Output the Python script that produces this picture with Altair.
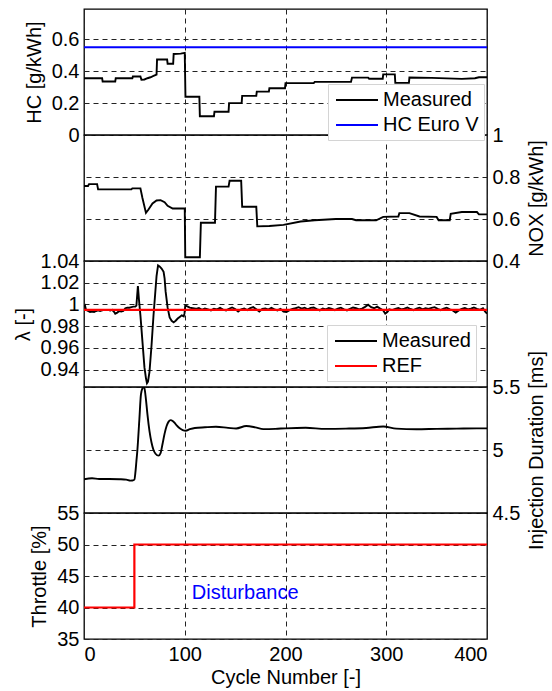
import altair as alt
import pandas as pd

# ---------------- data ----------------
hc_x = [0, 18, 18.5, 31, 31.5, 48, 48.5, 56, 57, 60, 63, 66, 69, 72, 72.5, 82.5, 83, 88.5, 89, 96, 100,
        100.7, 114.5, 115, 129, 129.5, 143.5, 144, 156.5, 157, 171, 171.5, 183.5, 184, 199.5, 200, 228,
        229, 265, 266, 282, 283, 296.5, 297, 308.5, 309, 322.5, 323, 345, 360, 375, 388, 392, 400]
hc_y = [0.356, 0.356, 0.335, 0.335, 0.356, 0.356, 0.367, 0.367, 0.346, 0.348, 0.356, 0.362, 0.37, 0.378,
        0.473, 0.473, 0.447, 0.447, 0.508, 0.51, 0.515, 0.24, 0.24, 0.118, 0.118, 0.146, 0.146, 0.2, 0.2,
        0.245, 0.245, 0.272, 0.272, 0.293, 0.293, 0.325, 0.325, 0.333, 0.333, 0.36, 0.36, 0.353, 0.353,
        0.38, 0.38, 0.327, 0.327, 0.36, 0.358, 0.355, 0.352, 0.356, 0.362, 0.362]

euro_x = [0, 400]
euro_y = [0.55, 0.55]

nox_x = [0, 4, 5, 13, 14, 47, 48, 55, 56, 58, 61.5, 64, 68, 72, 76, 80, 83, 88, 100, 100.5, 115, 116,
         130, 131, 143.5, 144.5, 156, 157, 171, 172, 184, 198, 215, 229, 250, 266, 270, 290, 297, 312,
         313, 323, 333, 350, 352, 363, 364, 375, 390, 392, 400]
nox_y = [0.757, 0.757, 0.766, 0.766, 0.741, 0.741, 0.746, 0.746, 0.746, 0.70, 0.629, 0.645, 0.674, 0.688,
         0.69, 0.68, 0.663, 0.65, 0.65, 0.418, 0.418, 0.582, 0.582, 0.754, 0.754, 0.782, 0.782, 0.658,
         0.658, 0.565, 0.567, 0.572, 0.588, 0.594, 0.6, 0.6, 0.594, 0.594, 0.61, 0.612, 0.628, 0.628,
         0.612, 0.61, 0.594, 0.594, 0.625, 0.633, 0.633, 0.622, 0.622]

lam_x = [0, 1, 2, 4, 6, 8, 10, 12, 14, 16, 18, 20, 22, 24, 26, 28, 30, 31, 33, 35, 37, 39, 41, 43, 45,
         47, 49, 51, 52, 53.5, 54.5, 56, 58, 60, 61.5, 62.5, 63.5, 65, 67, 69, 70.5, 72, 73.5, 75, 77,
         79, 80, 81, 83, 85, 87, 89, 91, 93, 95, 97, 99, 99.8, 100.5,
         102, 105, 108, 111, 114, 117, 120, 123, 126, 129, 132, 135, 138, 141, 144, 147, 150, 153, 156,
         159, 162, 165, 168, 171, 174, 177, 180, 183, 186, 189, 192, 195, 198, 201, 204, 207, 210, 213,
         216, 219, 222, 225, 228, 231, 234, 237, 240, 243, 246, 249, 252, 255, 258, 261, 264, 267, 270,
         273, 276, 279, 282, 285, 288, 291, 294, 297, 299, 301, 303, 306, 309, 312, 315, 318, 321, 324,
         327, 330, 333, 336, 339, 342, 345, 348, 351, 354, 357, 360, 363, 366, 369, 372, 375, 378, 381,
         384, 387, 390, 393, 396, 398, 400]
lam_y = [0.998, 0.999, 0.995, 0.994, 0.993, 0.9935, 0.993, 0.994, 0.9945, 0.994, 0.9945, 0.995, 0.9948,
         0.995, 0.9945, 0.995, 0.993, 0.9915, 0.9925, 0.994, 0.9935, 0.994, 0.9965, 0.997, 0.997, 0.9975,
         0.998, 0.998, 0.999, 1.017, 1.005, 0.99, 0.966, 0.942, 0.932, 0.9275, 0.929, 0.938, 0.962, 0.99,
         1.008, 1.026, 1.036, 1.035, 1.033, 1.03, 1.024, 1.012, 0.997, 0.988, 0.985, 0.9835, 0.985, 0.987,
         0.9885, 0.99, 0.989, 0.992, 0.999,
         0.9985, 0.997, 0.9965, 0.996, 0.9968, 0.995, 0.9962, 0.9955, 0.9945, 0.996, 0.9955, 0.9968,
         0.9952, 0.9945, 0.996, 0.9972, 0.9958, 0.9935, 0.9955, 0.9962, 0.9948, 0.9966, 0.9975, 0.9955,
         0.9935, 0.9958, 0.9962, 0.9952, 0.9968, 0.9955, 0.9945, 0.996, 0.9935, 0.993, 0.9948, 0.996,
         0.9965, 0.9975, 0.9962, 0.997, 0.9955, 0.9968, 0.9972, 0.9958, 0.9945, 0.9962, 0.9955, 0.9968,
         0.9958, 0.9948, 0.9962, 0.997, 0.9955, 0.9945, 0.996, 0.9972, 0.9965, 0.9955, 0.9962, 0.9978,
         0.9998, 0.9975, 0.9965, 0.998, 0.9962, 0.9945, 0.9915, 0.993, 0.9955, 0.9948, 0.996, 0.9968,
         0.9955, 0.9962, 0.9972, 0.9958, 0.9948, 0.9962, 0.997, 0.9955, 0.9965, 0.9958, 0.9968, 0.9975,
         0.996, 0.9948, 0.9962, 0.997, 0.9955, 0.9945, 0.9925, 0.9945, 0.996, 0.9968, 0.9955, 0.9962,
         0.9972, 0.996, 0.995, 0.9965, 0.9935, 0.9915]

ref_x = [0, 400]
ref_y = [0.995, 0.995]

inj_x = [0, 8, 15, 25, 35, 42, 46, 48, 50, 51, 52, 53, 55, 56.5, 58, 59, 60, 61.5, 63, 65, 67, 69, 71, 74,
         76, 78, 80, 82, 84, 86, 88, 90, 92, 95, 98, 101, 105, 110, 120, 131, 143, 151, 161, 170, 178,
         190, 200, 220, 240, 260, 280, 297, 310, 330, 350, 370, 390, 400]
inj_y = [4.768, 4.776, 4.77, 4.77, 4.768, 4.765, 4.757, 4.758, 4.765, 4.82, 4.91, 5.0, 5.25, 5.44, 5.49,
         5.5, 5.49, 5.40, 5.28, 5.15, 5.06, 5.0, 4.97, 4.955, 4.975, 5.05, 5.13, 5.19, 5.225, 5.237, 5.23,
         5.215, 5.195, 5.172, 5.158, 5.153, 5.165, 5.175, 5.18, 5.184, 5.176, 5.171, 5.19, 5.18, 5.166,
         5.168, 5.172, 5.176, 5.168, 5.17, 5.175, 5.186, 5.17, 5.165, 5.168, 5.17, 5.172, 5.172]

thr_x = [0, 50, 50, 400]
thr_y = [40, 40, 50, 50]

note_x = [107]
note_y = [42.3]
note_text = ["Disturbance"]

# ---------------- chart ----------------
FONT = "Liberation Sans"
FS = 20
W, H = 403, 126
GRID = dict(grid=True, gridDash=[5, 4], gridColor="#222222", gridWidth=1)
XT = [0, 100, 200, 300, 400]
xs = alt.Scale(domain=[0, 400], nice=False, zero=False)


def xenc(bottom=False):
    if bottom:
        ax = alt.Axis(values=XT, title="Cycle Number [-]", labelPadding=5, titlePadding=3, format="d", **GRID)
    else:
        ax = alt.Axis(values=XT, title=None, labels=False, **GRID)
    return alt.X("x:Q", scale=xs, axis=ax)


def yenc(domain, values, title, orient):
    kw = dict(orient=orient, values=values, format="~g", title=title, labelPadding=5, titlePadding=7, **GRID)
    if orient == "right":
        kw.update(titleAngle=270, titleBaseline="top")
    return alt.Y("y:Q", scale=alt.Scale(domain=domain, nice=False, zero=False), axis=alt.Axis(**kw))


def legend(lx, ly):
    return alt.Legend(orient="none", legendX=lx, legendY=ly, title=None, fillColor="white",
                      strokeColor="#d4d4d4", padding=5, symbolType="M-0.8,0H3.4", symbolSize=400,
                      symbolStrokeWidth=2, labelFontSize=FS, labelFont=FONT, labelColor="black",
                      labelOffset=28, rowPadding=4)


LW = 1.9

# Panel 1: HC
y1 = yenc([0, 0.79], [0, 0.2, 0.4, 0.6], "HC [g/kWh]", "left")
hc_df = pd.DataFrame({"x": hc_x, "y": hc_y})
euro_df = pd.DataFrame({"x": euro_x, "y": euro_y})
p1 = alt.layer(
    alt.Chart(hc_df).mark_line(color="black", strokeWidth=LW).encode(x=xenc(), y=y1),
    alt.Chart(euro_df).mark_line(color="#0000ff", strokeWidth=LW).encode(x=xenc(), y=y1),
).properties(width=W, height=H)

# Panel 2: NOX (carries the HC legend, drawn on top of panel 1)
y2 = yenc([0.4, 1.0], [0.4, 0.6, 0.8, 1.0], "NOX [g/kWh]", "right")
nox_df = pd.DataFrame({"x": nox_x, "y": nox_y, "s": "Measured"})
c2 = alt.Color("s:N", scale=alt.Scale(domain=["Measured", "HC Euro V"], range=["black", "#0000ff"]),
               legend=legend(244, -51))
p2 = alt.Chart(nox_df).mark_line(strokeWidth=LW, clip=True).encode(x=xenc(), y=y2, color=c2).properties(width=W, height=H)

# Panel 3: lambda
y3 = yenc([0.924, 1.04], [0.94, 0.96, 0.98, 1.0, 1.02, 1.04], "λ [-]", "left")
lam_df = pd.DataFrame({"x": lam_x, "y": lam_y, "s": "Measured"})
ref_df = pd.DataFrame({"x": ref_x, "y": ref_y, "s": "REF"})
c3 = alt.Color("s:N", scale=alt.Scale(domain=["Measured", "REF"], range=["black", "#ff0000"]),
               legend=legend(243, 64))
p3 = alt.layer(
    alt.Chart(lam_df).mark_line(strokeWidth=LW, clip=True).encode(x=xenc(), y=y3, color=c3),
    alt.Chart(ref_df).mark_line(strokeWidth=LW + 0.3).encode(x=xenc(), y=y3, color=c3),
).properties(width=W, height=H)

# Panel 4: injection duration
y4 = yenc([4.5, 5.5], [4.5, 5.0, 5.5], "Injection Duration [ms]", "right")
inj_df = pd.DataFrame({"x": inj_x, "y": inj_y})
p4 = alt.Chart(inj_df).mark_line(color="black", strokeWidth=LW, interpolate="monotone", clip=True).encode(
    x=xenc(), y=y4).properties(width=W, height=H)

# Panel 5: throttle
y5 = yenc([35, 55], [35, 40, 45, 50, 55], "Throttle [%]", "left")
thr_df = pd.DataFrame({"x": thr_x, "y": thr_y})
note_df = pd.DataFrame({"x": note_x, "y": note_y, "t": note_text})
p5 = alt.layer(
    alt.Chart(thr_df).mark_line(color="#ff0000", strokeWidth=LW + 0.3).encode(x=xenc(True), y=y5),
    alt.Chart(note_df).mark_text(color="#0000ff", fontSize=FS, font=FONT, align="left", baseline="middle").encode(
        x=xenc(True), y=y5, text="t:N"),
).properties(width=W, height=H)

chart = (
    alt.vconcat(p1, p2, p3, p4, p5, spacing=0, bounds="flush")
    .resolve_scale(color="independent", y="independent")
    .resolve_axis(y="independent")
    .resolve_legend(color="independent")
    .properties(padding={"left": 12, "top": 8, "right": 0, "bottom": 0}, background="white")
    .configure_axis(labelFont=FONT, titleFont=FONT, labelFontSize=FS, titleFontSize=FS,
                    titleFontWeight="normal", labelColor="black", titleColor="black",
                    ticks=False, domain=False)
    .configure_view(stroke="black", strokeWidth=1.3)
)

chart.save("out.html", embed_options={"renderer": "svg", "actions": False})
